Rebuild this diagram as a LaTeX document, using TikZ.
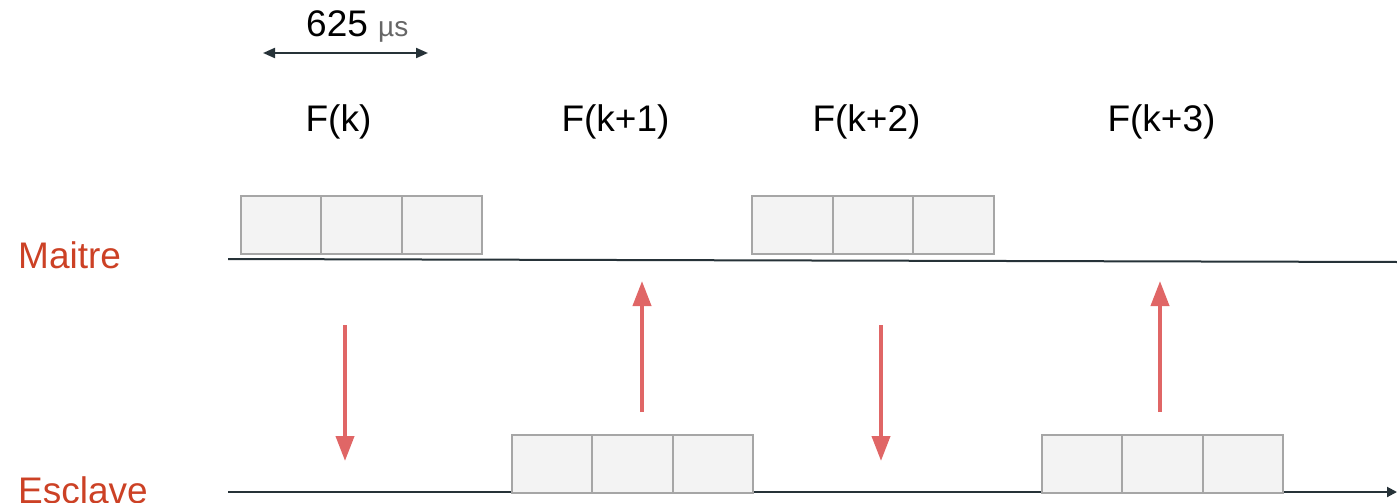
\documentclass[tikz,border=0pt]{standalone}
\usepackage{fontspec}
\setmainfont{Liberation Sans}
\usetikzlibrary{arrows.meta}
\definecolor{lbl}{HTML}{CC4125}
\definecolor{axis}{HTML}{263238}
\definecolor{cellfill}{HTML}{F3F3F3}
\definecolor{celldraw}{HTML}{A6A6A6}
\definecolor{sig}{HTML}{E06666}
\definecolor{unit}{HTML}{666666}
\begin{document}
\begin{tikzpicture}[x=1pt,y=-1pt,
  cell/.style={draw=celldraw,fill=cellfill,line width=2pt,minimum width=80.5pt,minimum height=58pt,inner sep=0pt,outer sep=0pt,anchor=north west},
  frame/.style={font=\fontsize{37}{40}\selectfont,anchor=base,inner sep=0pt},
  rolelbl/.style={font=\fontsize{37}{40}\selectfont,text=lbl,anchor=base west,inner sep=0pt},
  timeline/.style={draw=axis,line width=2pt},
  sigarrow/.style={draw=sig,line width=4pt,-{Triangle[length=25pt,width=18pt]}}]
\useasboundingbox (0,0) rectangle (1397,503);
% duration
\node[anchor=base west,inner sep=0pt] (dur) at (306,37) {\fontsize{37}{40}\selectfont 625 {\fontsize{28}{32}\selectfont\color{unit}µs}};
\coordinate (d1) at (263,53);
\coordinate (d2) at (428,53);
\draw[axis,line width=2pt,{Triangle[length=12pt,width=10pt]}-{Triangle[length=12pt,width=10pt]}] (d1) -- (d2);
% frames
\node[frame] (f0) at (338.5,131) {F(k)};
\node[frame] (f1) at (615.5,131) {F(k+1)};
\node[frame] (f2) at (866.5,131) {F(k+2)};
\node[frame] (f3) at (1161.5,131) {F(k+3)};
% labels
\node[rolelbl] (maitre) at (18,268) {Maitre};
\node[rolelbl] (esclave) at (18,503) {Esclave};
% timelines
\coordinate (m0) at (228,259);
\coordinate (m1) at (1397,262);
\coordinate (e0) at (228,492);
\coordinate (e1) at (1397,492);
\draw[timeline] (m0) -- (m1);
\draw[timeline,-{Triangle[length=10pt,width=10pt]}] (e0) -- (e1);
% master slots
\node[cell] (a1) at (240.5,196) {};
\node[cell] (a2) at (321,196) {};
\node[cell] (a3) at (401.5,196) {};
\node[cell] (b1) at (752,196) {};
\node[cell] (b2) at (832.5,196) {};
\node[cell] (b3) at (913,196) {};
% slave slots
\node[cell] (c1) at (511.5,435) {};
\node[cell] (c2) at (592,435) {};
\node[cell] (c3) at (672.5,435) {};
\node[cell] (d1b) at (1041.5,435) {};
\node[cell] (d2b) at (1122,435) {};
\node[cell] (d3b) at (1202.5,435) {};
% signal arrows
\coordinate (s1a) at (345,325); \coordinate (s1b) at (345,461);
\coordinate (s2a) at (642,412); \coordinate (s2b) at (642,281);
\coordinate (s3a) at (881,325); \coordinate (s3b) at (881,461);
\coordinate (s4a) at (1160,412); \coordinate (s4b) at (1160,281);
\draw[sigarrow] (s1a) -- (s1b);
\draw[sigarrow] (s2a) -- (s2b);
\draw[sigarrow] (s3a) -- (s3b);
\draw[sigarrow] (s4a) -- (s4b);
\end{tikzpicture}
\end{document}
